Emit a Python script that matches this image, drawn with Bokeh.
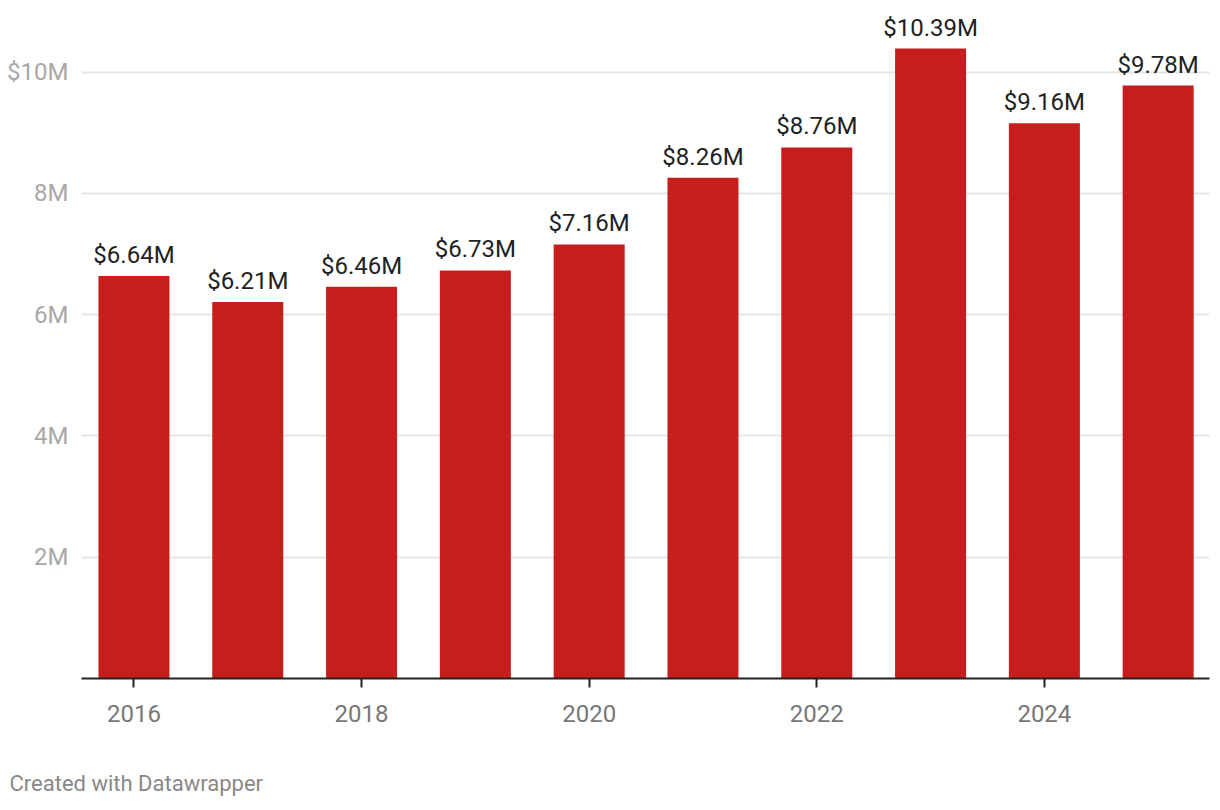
from bokeh.plotting import figure
from bokeh.models import ColumnDataSource, FixedTicker, Range1d, Title
from bokeh.embed import file_html
from bokeh.resources import INLINE
from bokeh.core.properties import value

years = [2016, 2017, 2018, 2019, 2020, 2021, 2022, 2023, 2024, 2025]
values_m = [6.64, 6.21, 6.46, 6.73, 7.16, 8.26, 8.76, 10.39, 9.16, 9.78]
value_labels = ["$%.2fM" % v for v in values_m]
x_tick_years = [2016, 2018, 2020, 2022, 2024]
y_ticks = [2, 4, 6, 8, 10]
y_tick_labels = ["2M", "4M", "6M", "8M", "$10M"]
footer_text = "Created with Datawrapper"

FONT = "Roboto"

src = ColumnDataSource(dict(x=years, top=values_m, label=value_labels))

p = figure(
    frame_width=1128, frame_height=668,
    min_border_left=81, min_border_right=2, min_border_top=10, min_border_bottom=132,
    x_range=Range1d(2015.539, 2025.451), y_range=Range1d(0, 11.018),
    output_backend="svg", toolbar_location=None,
)
p.outline_line_color = None
p.background_fill_color = "white"
p.border_fill_color = "white"

p.vbar(x="x", top="top", bottom=0, width=0.624, source=src,
       fill_color="#c71e1d", line_color=None)

p.text(x="x", y="top", text="label", source=src,
       text_align="center", text_baseline="alphabetic", y_offset=-21,
       text_font=value(FONT), text_font_size="24px", text_color="#222222")

# grid
p.xgrid.grid_line_color = None
p.ygrid.ticker = FixedTicker(ticks=y_ticks)
p.ygrid.grid_line_color = "#e5e5e5"
p.ygrid.grid_line_width = 2

# y axis
p.yaxis.ticker = FixedTicker(ticks=y_ticks)
p.yaxis.major_label_overrides = {t: l for t, l in zip(y_ticks, y_tick_labels)}
p.yaxis.axis_line_color = None
p.yaxis.major_tick_line_color = None
p.yaxis.minor_tick_line_color = None
p.yaxis.major_label_standoff = 7
p.yaxis.major_label_text_font = FONT
p.yaxis.major_label_text_font_size = "24px"
p.yaxis.major_label_text_color = "#a8a8a8"

# x axis
p.xaxis.ticker = FixedTicker(ticks=x_tick_years)
p.xaxis.major_label_overrides = {t: str(t) for t in x_tick_years}
p.xaxis.axis_line_color = "#222222"
p.xaxis.axis_line_width = 2
p.xaxis.major_tick_line_color = "#222222"
p.xaxis.major_tick_line_width = 2
p.xaxis.major_tick_out = 9
p.xaxis.major_tick_in = 0
p.xaxis.minor_tick_line_color = None
p.xaxis.major_label_standoff = 17
p.xaxis.major_label_text_font = FONT
p.xaxis.major_label_text_font_size = "24px"
p.xaxis.major_label_text_color = "#777777"

footer = Title(text=footer_text, align="left", offset=-72, standoff=88,
               text_font=FONT, text_font_size="22px", text_font_style="normal",
               text_color="#888888")
p.add_layout(footer, "below")

open("out.html", "w").write(file_html(p, INLINE))
